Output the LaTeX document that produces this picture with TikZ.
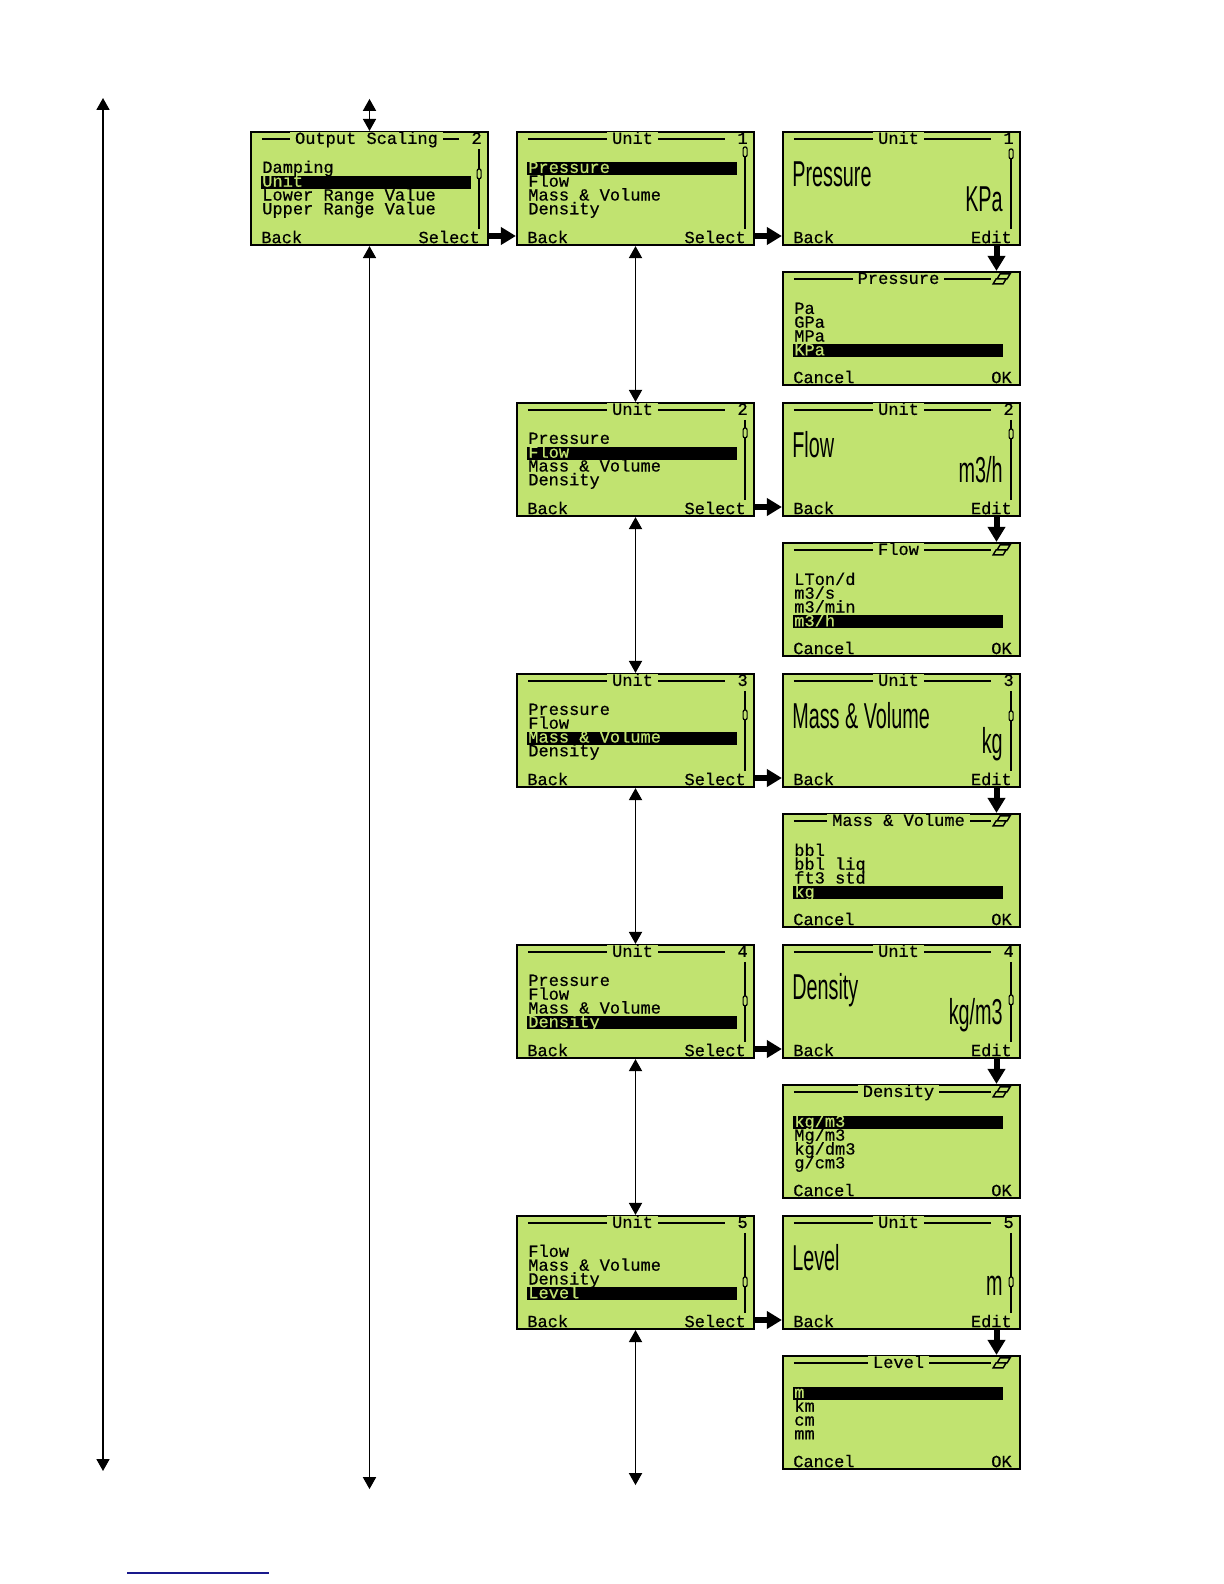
\documentclass[tikz,border=0pt]{standalone}
\usepackage{fontspec}
\usetikzlibrary{arrows.meta, positioning, calc}
\newfontfamily\lcdmono[FakeBold=0.6]{Liberation Mono}
\newfontfamily\lcdsans{Liberation Sans}
\definecolor{lcd}{RGB}{193,227,112}
\definecolor{ruleblue}{RGB}{25,25,140}

\tikzset{
  screen/.style={draw, line width=1.1pt, fill=lcd, minimum width=118.5pt, minimum height=56.5pt, inner sep=0pt},
  lcdtxt/.style={font=\lcdmono\fontsize{8.5}{8.5}\selectfont, inner sep=0pt},
  fwd/.style={-{Triangle[width=8.5pt,length=7.5pt]}, line width=3pt},
  nav/.style={{Triangle[width=6.5pt,length=6pt]}-{Triangle[width=6.5pt,length=6pt]}, line width=0.9pt},
}

% big characters of the value screens
\newcommand{\bigtxt}[1]{\scalebox{0.55}[1]{\lcdsans\fontsize{18}{18}\selectfont #1}}

% header line with title and corner mark
\newcommand{\lcdhead}[3]{%
  \draw[line width=0.8pt] ($(#1.north west)+(12,8)$) -- ($(#1.north east)+(-30,8)$);
  \node[lcdtxt, fill=lcd, inner xsep=2.5pt, anchor=base] (#1-t) at ($(#1.north)+(-3,13)$) {#2};
  \node[lcdtxt, anchor=base east] (#1-n) at ($(#1.north east)+(-7,13)$) {#3};
}
% scroll bar with its thumb
\newcommand{\lcdscroll}[2]{%
  \draw[line width=0.8pt] ($(#1.north east)+(-10,18)$) -- ($(#1.north east)+(-10,98)$);
  \draw[line width=0.6pt, fill=lcd, rounded corners=1pt] ($(#1.north east)+(-12,#2-5)$) rectangle ($(#1.north east)+(-8,#2+5)$);
}
% soft keys
\newcommand{\lcdkeys}[3]{%
  \node[lcdtxt, anchor=base west] (#1-l) at ($(#1.south west)+(11,-3)$) {#2};
  \node[lcdtxt, anchor=base east] (#1-r) at ($(#1.south east)+(-9,-3)$) {#3};
}
% four menu rows, one of them inverted
\newcommand{\lcditems}[4]{%
  \foreach \itm [count=\i] in {#4} {
    \pgfmathsetmacro\yb{#2+13.8*(\i-1)}
    \ifnum\i=#3\relax
      \fill ($(#1.north west)+(11,\yb-11)$) rectangle ($(#1.north east)+(-18,\yb+2)$);
      \node[lcdtxt, text=lcd, anchor=base west] (#1-\i) at ($(#1.north west)+(12,\yb)$) {\itm};
    \else
      \node[lcdtxt, anchor=base west] (#1-\i) at ($(#1.north west)+(12,\yb)$) {\itm};
    \fi
  }
}
% selection icon of the pick lists
\newcommand{\lcdicon}[1]{%
  \draw[line width=0.7pt] ($(#1.north east)+(-21,3)$) -- ++(10,0) -- ++(-3,5) -- ++(-10,0) -- cycle;
  \draw[line width=0.7pt, fill=lcd] ($(#1.north east)+(-25,8)$) -- ++(10,0) -- ++(-3,5) -- ++(-10,0) -- cycle;
}

\newcommand{\lcdlist}[6]{%
  \lcdhead{#1}{#2}{#3}
  \lcditems{#1}{42}{#5}{#4}
  \lcdscroll{#1}{#6}
  \lcdkeys{#1}{Back}{Select}
}
\newcommand{\lcdunit}[5]{%
  \lcdhead{#1}{Unit}{#2}
  \lcdscroll{#1}{#5}
  \node[anchor=base west, inner sep=0pt] (#1-v) at ($(#1.north west)+(10,56)$) {\bigtxt{#3}};
  \node[anchor=base east, inner sep=0pt] (#1-u) at ($(#1.north east)+(-18,81)$) {\bigtxt{#4}};
  \lcdkeys{#1}{Back}{Edit}
}
\newcommand{\lcdpick}[4]{%
  \lcdhead{#1}{#2}{}
  \lcdicon{#1}
  \lcditems{#1}{43}{#4}{#3}
  \lcdkeys{#1}{Cancel}{OK}
}

\begin{document}
\begin{tikzpicture}[x=0.5pt, y=-0.5pt]
  \useasboundingbox (0,0) rectangle (1224,1584);

  % Row 1
  \node[screen] (os) at (369.5,188.5) {};
  \node[screen, right=13.4pt of os] (u1) {};
  \node[screen, right=13.4pt of u1] (v1) {};
  \node[screen, below=12.4pt of v1] (p1) {};

  % Rows 2 to 5: each list screen below the previous one
  \node[screen, below=77.9pt of u1] (u2) {};
  \node[screen, right=13.4pt of u2] (v2) {};
  \node[screen, below=12.4pt of v2] (p2) {};

  \node[screen, below=77.9pt of u2] (u3) {};
  \node[screen, right=13.4pt of u3] (v3) {};
  \node[screen, below=12.4pt of v3] (p3) {};

  \node[screen, below=77.9pt of u3] (u4) {};
  \node[screen, right=13.4pt of u4] (v4) {};
  \node[screen, below=12.4pt of v4] (p4) {};

  \node[screen, below=77.9pt of u4] (u5) {};
  \node[screen, right=13.4pt of u5] (v5) {};
  \node[screen, below=12.4pt of v5] (p5) {};

  % --- screen contents ---
  \lcdlist{os}{Output Scaling}{2}{Damping, Unit, Lower Range Value, Upper Range Value}{2}{43}

  \lcdlist{u1}{Unit}{1}{Pressure, Flow, Mass \& Volume, Density}{1}{21}
  \lcdlist{u2}{Unit}{2}{Pressure, Flow, Mass \& Volume, Density}{2}{31}
  \lcdlist{u3}{Unit}{3}{Pressure, Flow, Mass \& Volume, Density}{3}{42}
  \lcdlist{u4}{Unit}{4}{Pressure, Flow, Mass \& Volume, Density}{4}{57}
  \lcdlist{u5}{Unit}{5}{Flow, Mass \& Volume, Density, Level}{4}{67}

  \lcdunit{v1}{1}{Pressure}{KPa}{23}
  \lcdunit{v2}{2}{Flow}{m3/h}{32}
  \lcdunit{v3}{3}{Mass \& Volume}{kg}{43}
  \lcdunit{v4}{4}{Density}{kg/m3}{56}
  \lcdunit{v5}{5}{Level}{m}{67}

  \lcdpick{p1}{Pressure}{Pa, GPa, MPa, KPa}{4}
  \lcdpick{p2}{Flow}{LTon/d, m3/s, m3/min, m3/h}{4}
  \lcdpick{p3}{Mass \& Volume}{bbl, bbl liq, ft3 std, kg}{4}
  \lcdpick{p4}{Density}{kg/m3, Mg/m3, kg/dm3, g/cm3}{1}
  \lcdpick{p5}{Level}{m, km, cm, mm}{1}

  % --- Select / Edit arrows (thick) ---
  \draw[fwd] ([yshift=-23.75pt]os.east) -- ([yshift=-23.75pt]u1.west);
  \draw[fwd] ([yshift=-23.75pt]u1.east) -- ([yshift=-23.75pt]v1.west);
  \draw[fwd] ([yshift=-23.75pt]u2.east) -- ([yshift=-23.75pt]v2.west);
  \draw[fwd] ([yshift=-23.75pt]u3.east) -- ([yshift=-23.75pt]v3.west);
  \draw[fwd] ([yshift=-23.75pt]u4.east) -- ([yshift=-23.75pt]v4.west);
  \draw[fwd] ([yshift=-23.75pt]u5.east) -- ([yshift=-23.75pt]v5.west);

  \draw[fwd] ([xshift=47.5pt]v1.south) -- ([xshift=47.5pt]p1.north);
  \draw[fwd] ([xshift=47.5pt]v2.south) -- ([xshift=47.5pt]p2.north);
  \draw[fwd] ([xshift=47.5pt]v3.south) -- ([xshift=47.5pt]p3.north);
  \draw[fwd] ([xshift=47.5pt]v4.south) -- ([xshift=47.5pt]p4.north);
  \draw[fwd] ([xshift=47.5pt]v5.south) -- ([xshift=47.5pt]p5.north);

  % --- navigation arrows (thin, both ways) ---
  \coordinate (top) at (103,98);
  \coordinate (bot) at (103,1471);
  \draw[nav] (top) -- (bot);

  \coordinate (osup) at ($(os.north)+(0,-32)$);
  \coordinate (osdown) at ($(os.south)+(0,1243)$);
  \draw[nav] (osup) -- (os.north);
  \draw[nav] (os.south) -- (osdown);

  \coordinate (udown) at ($(u5.south)+(0,155)$);
  \draw[nav] (u1.south) -- (u2.north);
  \draw[nav] (u2.south) -- (u3.north);
  \draw[nav] (u3.south) -- (u4.north);
  \draw[nav] (u4.south) -- (u5.north);
  \draw[nav] (u5.south) -- (udown);

  % rule at the foot of the page
  \draw[ruleblue, line width=0.9pt] (127,1573) -- (269,1573);
\end{tikzpicture}
\end{document}
